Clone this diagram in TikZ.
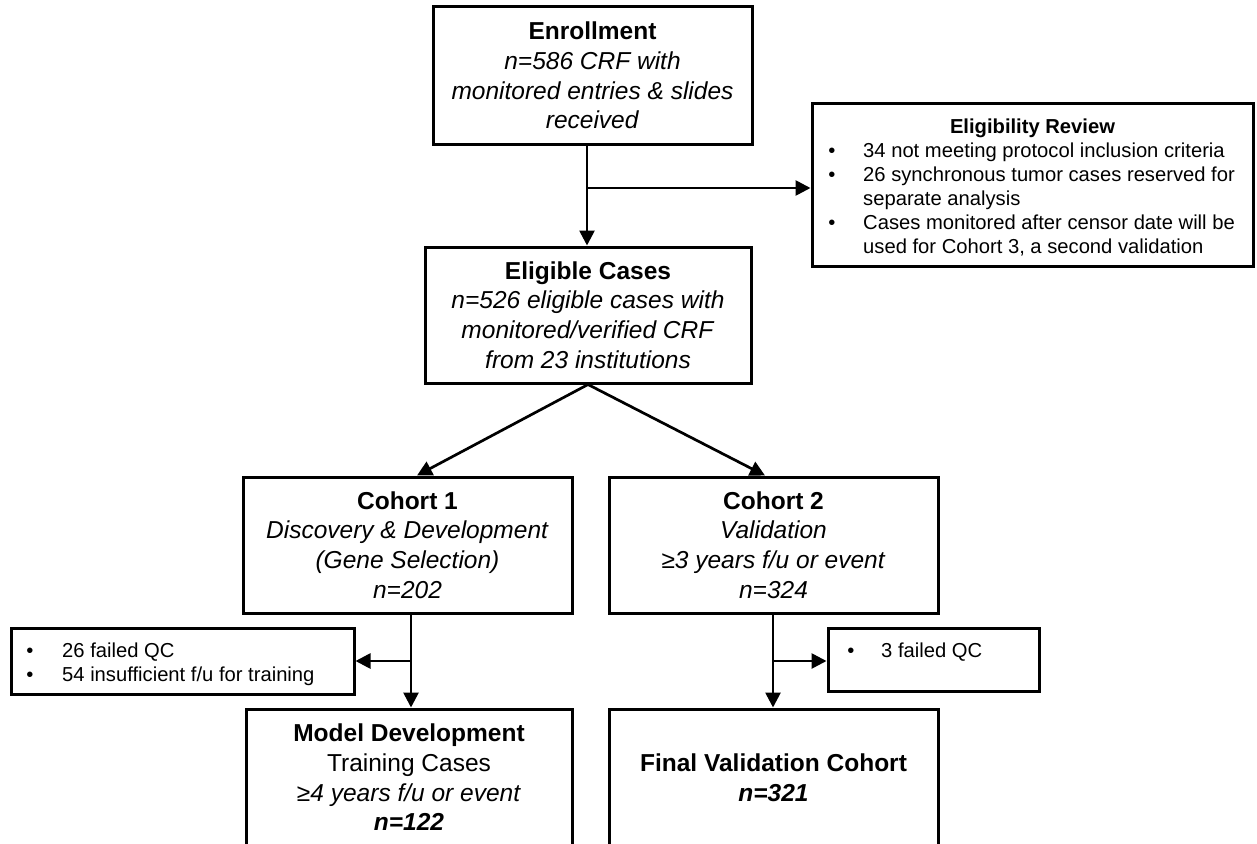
\documentclass[tikz,border=0pt]{standalone}
\usepackage{fontspec}
\setmainfont{Liberation Sans}
\usetikzlibrary{arrows.meta}
\begin{document}
\begin{tikzpicture}[x=1pt,y=-1pt,
  box/.style={draw, line width=3pt, rectangle, inner sep=0pt, align=center,
    font=\fontsize{24.5}{29.7}\selectfont},
  sbox/.style={draw, line width=3pt, rectangle, inner sep=0pt},
  stxt/.style={font=\fontsize{20.2}{24}\selectfont, anchor=base west, inner sep=0pt},
  bul/.style={font=\fontsize{20.2}{24}\selectfont, anchor=base, inner sep=0pt},
  arr/.style={line width=2.7pt, -{Triangle[length=15pt,width=15pt]}},
  ln/.style={line width=2.7pt}]
\path[use as bounding box, clip] (0,0) rectangle (1257,843);
\fill[white] (0,0) rectangle (1257,843);

% main boxes
\node[box, minimum width=319pt, minimum height=137pt] (enr) at (592.5,75.5)
  {\textbf{Enrollment}\\ \textit{n=586 CRF with}\\ \textit{monitored entries \& slides}\\ \textit{received}};
\node[box, minimum width=326pt, minimum height=136pt] (elc) at (588,315)
  {\textbf{Eligible Cases}\\ \textit{n=526 eligible cases with}\\ \textit{monitored/verified CRF}\\ \textit{from 23 institutions}};
\node[box, minimum width=329pt, minimum height=136pt] (c1) at (407.5,545)
  {\textbf{Cohort 1}\\ \textit{Discovery \& Development}\\ \textit{(Gene Selection)}\\ \textit{n=202}};
\node[box, minimum width=329pt, minimum height=136pt] (c2) at (773.5,545)
  {\textbf{Cohort 2}\\ \textit{Validation}\\ \textit{≥3 years f/u or event}\\ \textit{n=324}};
\node[box, minimum width=326pt, minimum height=137pt] (md) at (409,777.5)
  {\textbf{Model Development}\\ Training Cases\\ \textit{≥4 years f/u or event}\\ \textbf{\textit{n=122}}};
\node[box, minimum width=329pt, minimum height=137pt] (fv) at (773.5,777.5)
  {\textbf{Final Validation Cohort}\\ \textbf{\textit{n=321}}};

% side boxes
\node[sbox, minimum width=441pt, minimum height=163pt] (elig) at (1032.5,184.5) {};
\node[sbox, minimum width=343pt, minimum height=66pt] (ex1) at (182.5,661) {};
\node[sbox, minimum width=211pt, minimum height=63pt] (ex2) at (933.5,659.5) {};

% eligibility review text
\node[font=\fontsize{20.2}{24}\selectfont\bfseries, anchor=base, inner sep=0pt] (et) at (1032.5,133) {Eligibility Review};
\node[bul] (eb1) at (832,157) {•};
\node[stxt] (e1) at (863,157) {34 not meeting protocol inclusion criteria};
\node[bul] (eb2) at (832,181) {•};
\node[stxt] (e2) at (863,181) {26 synchronous tumor cases reserved for};
\node[stxt] (e3) at (863,205) {separate analysis};
\node[bul] (eb3) at (832,229) {•};
\node[stxt] (e4) at (863,229) {Cases monitored after censor date will be};
\node[stxt] (e5) at (863,253) {used for Cohort 3, a second validation};

% exclusion 1 text
\node[bul] (xb1) at (30,657) {•};
\node[stxt] (x1) at (62,657) {26 failed QC};
\node[bul] (xb2) at (30,681) {•};
\node[stxt] (x2) at (62,681) {54 insufficient f/u for training};

% exclusion 2 text
\node[bul] (yb1) at (851,657) {•};
\node[stxt] (y1) at (881,657) {3 failed QC};

% connectors
\coordinate (j1) at (587,188);
\draw[arr] (j1 |- enr.south) -- (j1 |- elc.north);
\draw[arr] (j1) -- (j1 -| elig.west);

\draw[arr] (elc.south) -- ([xshift=9.5pt]c1.north);
\draw[arr] (elc.south) -- ([xshift=-8.5pt]c2.north);

\coordinate (j2) at (411,661);
\draw[arr] (j2 |- c1.south) -- (j2 |- md.north);
\draw[arr] (j2) -- (j2 -| ex1.east);

\coordinate (j3) at (773,661);
\draw[arr] (j3 |- c2.south) -- (j3 |- fv.north);
\draw[arr] (j3) -- (j3 -| ex2.west);
\end{tikzpicture}
\end{document}
